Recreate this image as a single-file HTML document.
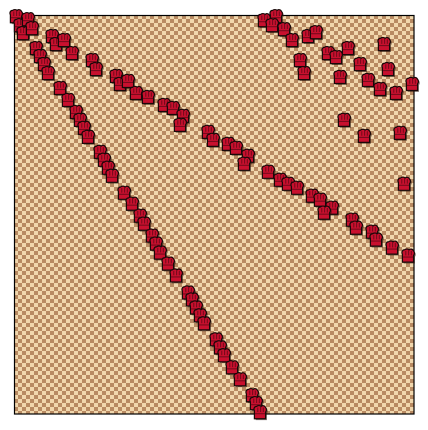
<!DOCTYPE html>
<html><head><meta charset="utf-8"><style>
html,body{margin:0;padding:0;background:#fff;}
svg{display:block;}
</style></head><body>
<svg id="chart" width="428" height="430" viewBox="0 0 428 430" xmlns="http://www.w3.org/2000/svg">
<defs>
<pattern id="checker" x="14" y="15" width="8" height="8" patternUnits="userSpaceOnUse">
<rect width="8" height="8" fill="#f1d7ad"/>
<rect width="4" height="4" fill="#b88a62"/>
<rect x="4" y="4" width="4" height="4" fill="#b88a62"/>
</pattern>
</defs>
<rect x="14" y="15" width="400" height="399" fill="url(#checker)"/>
<rect x="14.5" y="15.5" width="399.5" height="398.5" fill="none" stroke="#000" stroke-width="1.2"/>
<g id="marks"></g>
</svg>
<script>
const xs = [0.5,1.5,3.5,2.25,4.5,5.5,6.5,7.5,8.5,11.5,13.5,15.5,16.5,17.5,18.5,21.5,22.5,23.5,24.5,27.5,29.5,31.5,32.5,34.5,35.5,36.5,38.5,40.5,43.5,44.5,45.5,46.5,47.5,50.5,51.5,52.5,54.5,56.5,59.5,60.5,61.5,
9.5,10.5,12.5,14.5,19.5,20.5,25.5,26.5,28.5,30.5,33.5,37.5,39.75,42.25,41.5,48.5,49.75,53.5,55.5,58.5,57.5,63.5,66.5,68.5,70.75,74.5,76.5,79.5,77.5,84.5,85.5,89.5,90.5,94.5,98.5,
82.5,87.5,96.5,97.5,
62.5,65.5,64.5,67.5,69.5,73.5,75.5,71.5,72.5,78.5,80.5,83.5,86.5,81.5,88.5,91.5,95.5,99.5,92.5,93.5];
const ys = [99.75,97.5,99,95.5,96.75,91.75,89.75,87.75,85.5,81.75,78.75,75.75,73.75,71.75,69.5,65.75,63.75,61.75,59.75,55.5,52.75,49.75,47.75,44.75,42.75,40.5,37.75,34.75,30.5,28.75,26.75,24.75,22.75,18.75,16.75,14.75,11.75,8.75,4.75,2.75,0.5,
94.75,92.75,93.75,90.5,88.75,86.5,84.75,82.75,83.5,80.5,79.5,77.5,76.75,74.75,72.5,70.75,68.75,67.75,66.75,64.75,62.75,60.75,58.75,57.75,56.75,54.75,53.75,51.75,50.5,48.75,46.75,45.75,43.75,41.75,39.75,
73.75,69.75,70.5,57.75,
98.75,99.75,97.5,96.5,93.75,94.75,95.75,88.75,85.5,90.5,89.5,91.75,87.75,84.5,83.75,81.5,80.5,82.75,92.75,86.5];
const xDomain = [0,100];
const yDomain = [0,100];
const xScale = v => 14 + (v - xDomain[0]) / (xDomain[1]-xDomain[0]) * 400;
const yScale = v => 414 - (v - yDomain[0]) / (yDomain[1]-yDomain[0]) * 399;
const NS = "http://www.w3.org/2000/svg";
const g = document.getElementById('marks');
const shape = "M-5,6 L-5,-1 C-6,-3 -5,-5 -3,-5 C-2,-6 0,-6 1,-5 C2,-6 4,-6 5,-4 C6,-3 6,-1 5,0 L5,6 Z";
for (let i = 0; i < xs.length; i++) {
  const cx = xScale(xs[i]), cy = yScale(ys[i]);
  const m = document.createElementNS(NS, 'g');
  
  
  m.setAttribute('transform', 'translate(' + cx.toFixed(1) + ',' + cy.toFixed(1) + ') scale(1.12)');
  const sh = document.createElementNS(NS, 'path');
  sh.setAttribute('d', shape);
  sh.setAttribute('transform', 'translate(1.2,1.2)');
  sh.setAttribute('fill', 'rgba(40,20,10,0.55)');
  m.appendChild(sh);
  const p = document.createElementNS(NS, 'path');
  p.setAttribute('d', shape);
  p.setAttribute('fill', '#c8102e');
  p.setAttribute('stroke', '#1a0808');
  p.setAttribute('stroke-width', '1.1');
  m.appendChild(p);
  const band = document.createElementNS(NS, 'path');
  band.setAttribute('d', 'M-4.5,1.5 L4.5,1.5 M-2,-4 L-2,0 M0.5,-4.5 L0.5,0 M3,-4 L3,0');
  band.setAttribute('stroke', '#7a0a1c');
  band.setAttribute('stroke-width', '1');
  m.appendChild(band);
  g.appendChild(m);
}
</script>
</body></html>
